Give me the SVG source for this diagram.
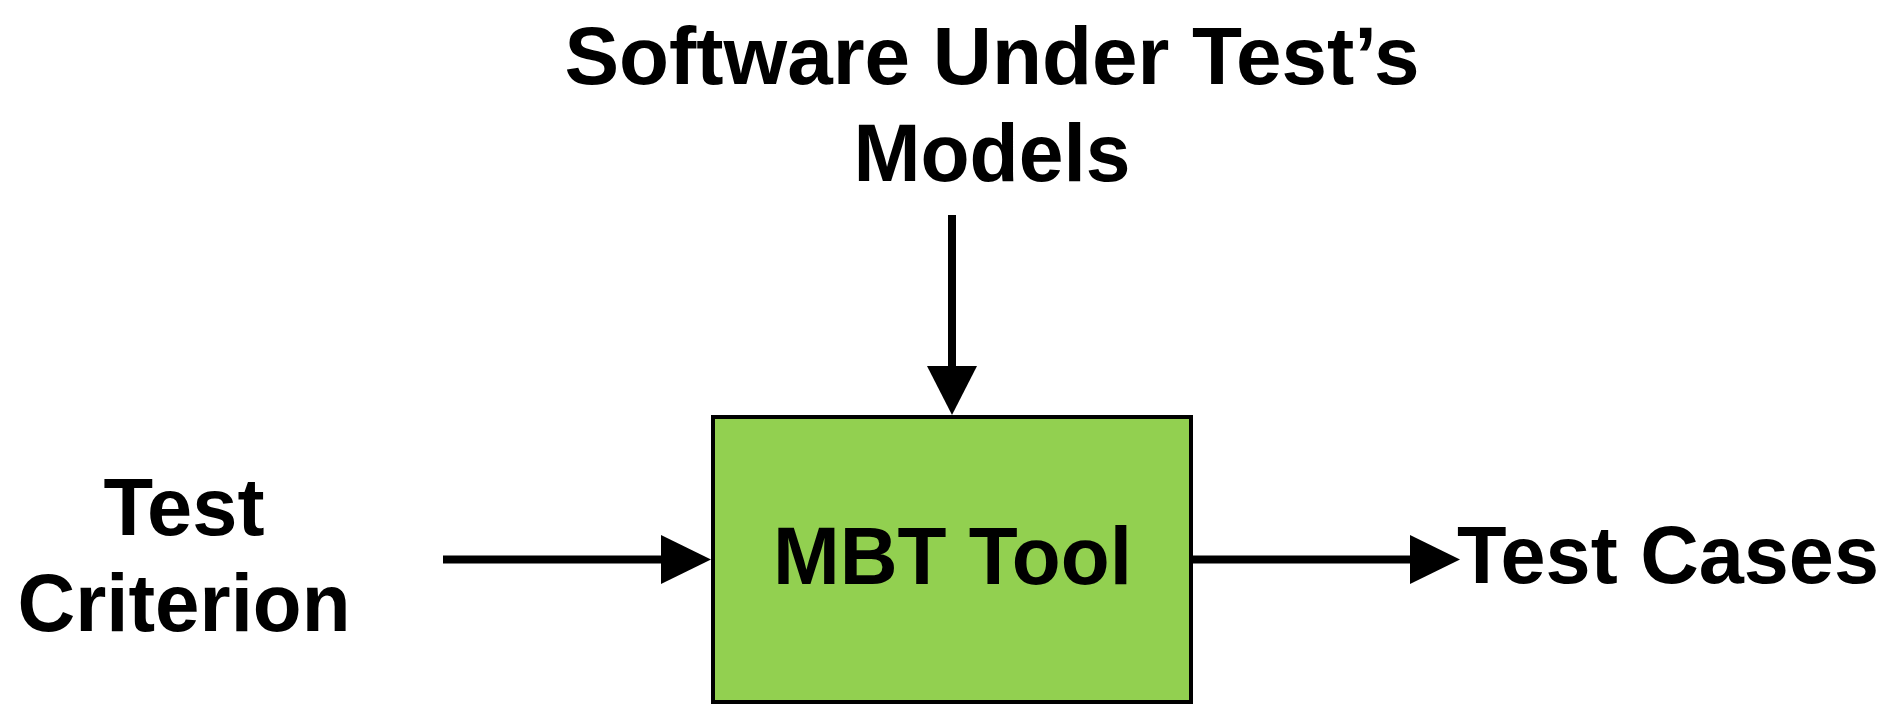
<svg xmlns="http://www.w3.org/2000/svg" width="1892" height="706" viewBox="0 0 1892 706">
<style>
text{font-family:"Liberation Sans",Arial,sans-serif;font-weight:bold;font-size:81px;fill:#000}
.c{text-anchor:middle}
.ln{stroke:#000;stroke-width:8;fill:none}
.hd{fill:#000}
</style>
<rect width="1892" height="706" fill="#fff"/>
<g id="models">
<text class="c" x="992" y="84" textLength="855" lengthAdjust="spacingAndGlyphs">Software Under Test’s</text>
<text class="c" x="992" y="181" textLength="277" lengthAdjust="spacingAndGlyphs">Models</text>
</g>
<g id="criterion">
<text class="c" x="184" y="535" textLength="161" lengthAdjust="spacingAndGlyphs">Test</text>
<text class="c" x="184" y="631" textLength="333" lengthAdjust="spacingAndGlyphs">Criterion</text>
</g>
<g id="mbt-tool">
<rect x="713" y="417" width="478" height="285" fill="#92D050" stroke="#000" stroke-width="4"/>
<text class="c" x="952.5" y="584" textLength="359" lengthAdjust="spacingAndGlyphs">MBT Tool</text>
</g>
<g id="test-cases">
<text x="1457" y="583" textLength="422" lengthAdjust="spacingAndGlyphs">Test Cases</text>
</g>
<g id="connectors">
<line class="ln" x1="952" y1="215" x2="952" y2="368"/>
<polygon class="hd" points="927,366 977,366 952,415"/>
<line class="ln" x1="443" y1="559.5" x2="663" y2="559.5"/>
<polygon class="hd" points="661,535 661,584 711,559.5"/>
<line class="ln" x1="1193" y1="559.5" x2="1412" y2="559.5"/>
<polygon class="hd" points="1410,535 1410,584 1460,559.5"/>
</g>
</svg>
